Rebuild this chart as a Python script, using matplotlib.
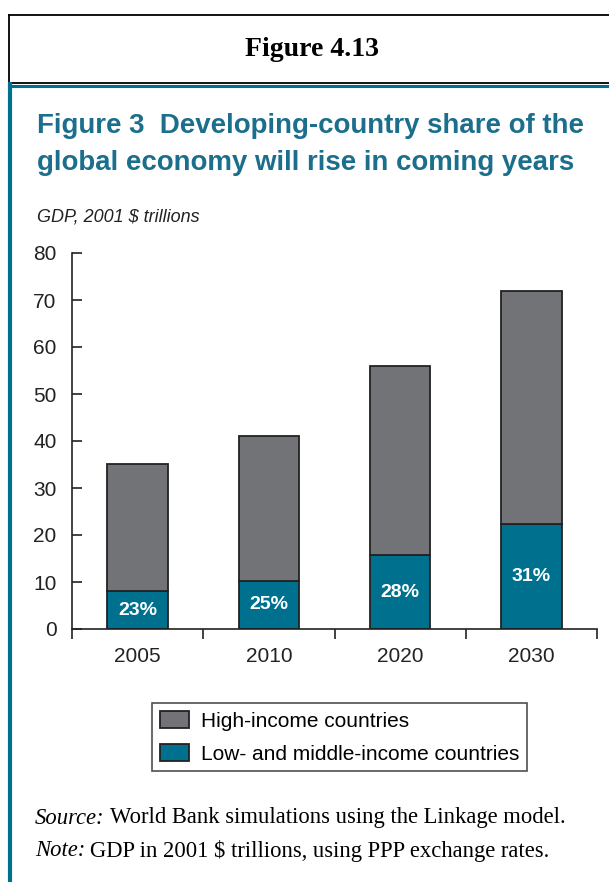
import numpy as np
import matplotlib.pyplot as plt
from matplotlib.lines import Line2D
from matplotlib.patches import Patch

# GDP, 2001 $ trillions
years = ["2005", "2010", "2020", "2030"]
total_gdp = [35, 41, 56, 72]
developing_share = [0.23, 0.25, 0.28, 0.31]
share_labels = ["23%", "25%", "28%", "31%"]

teal = "#00708f"
grey = "#727377"
edge = "#222222"

W, H = 609, 882
fig = plt.figure(figsize=(W / 100, H / 100), dpi=100)


def fx(px):
    return px / W


def fy(py):
    return 1 - py / H


# heading box and teal frame
fig.add_artist(Line2D([fx(9), fx(9), fx(W)], [fy(15), fy(83), fy(83)], color="black", lw=1.3))
fig.add_artist(Line2D([fx(9), fx(W)], [fy(15), fy(15)], color="black", lw=1.3))
fig.add_artist(Line2D([fx(9), fx(W)], [fy(85.5), fy(85.5)], color=teal, lw=2.2))
fig.add_artist(Line2D([fx(9.8), fx(9.8)], [fy(84), fy(H)], color=teal, lw=3))

fig.text(fx(312), fy(49), "Figure 4.13", family="Liberation Serif", weight="bold",
         fontsize=20, ha="center", va="center")

title_color = "#1b6f8d"
fig.text(fx(37), fy(133), "Figure 3  Developing-country share of the", family="Liberation Sans",
         weight="bold", fontsize=19.9, color=title_color, ha="left", va="baseline")
fig.text(fx(37), fy(170), "global economy will rise in coming years", family="Liberation Sans",
         weight="bold", fontsize=19.9, color=title_color, ha="left", va="baseline")
fig.text(fx(37), fy(217), "GDP, 2001 $ trillions", family="Liberation Sans", style="italic",
         fontsize=13, color="#222222", ha="left", va="center")

ax = fig.add_axes([fx(72), fy(629), fx(597) - fx(72), fy(253) - fy(629)])

total = np.array(total_gdp, dtype=float)
low = total * np.array(developing_share)
high = total - low
x = np.arange(len(years))

ax.bar(x, low, width=0.46, color=teal, edgecolor=edge, linewidth=1.3,
       label="Low- and middle-income countries")
ax.bar(x, high, width=0.46, bottom=low, color=grey, edgecolor=edge, linewidth=1.3,
       label="High-income countries")

for xi, lo, lab in zip(x, low, share_labels):
    ax.text(xi, lo / 2, lab, ha="center", va="center", color="white", weight="bold",
            family="Liberation Sans", fontsize=14)

ax.set_xlim(-0.5, 3.5)
ax.set_ylim(0, 80)
ax.set_yticks(np.arange(0, 81, 10))
ax.set_xticks(x)
ax.set_xticklabels(years)
ax.set_xticks(np.arange(-0.5, 3.6, 1), minor=True)

for side in ["top", "right"]:
    ax.spines[side].set_visible(False)
for side in ["left", "bottom"]:
    ax.spines[side].set_linewidth(1.2)
    ax.spines[side].set_color(edge)

ax.tick_params(axis="y", direction="in", length=7.2, width=1.2, color=edge,
               labelsize=15, labelcolor="#222222")
ax.tick_params(axis="x", which="major", length=0, pad=13, labelsize=15, labelcolor="#222222")
ax.tick_params(axis="x", which="minor", direction="out", length=7.2, width=1.2, color=edge)
for lab in ax.get_xticklabels() + ax.get_yticklabels():
    lab.set_family("Liberation Sans")
# y labels sit left of the spine even with inward ticks
ax.yaxis.set_tick_params(pad=11)

handles = [Patch(facecolor=grey, edgecolor=edge, linewidth=1.3),
           Patch(facecolor=teal, edgecolor=edge, linewidth=1.3)]
leg = fig.legend(handles, ["High-income countries", "Low- and middle-income countries"],
                 loc="upper left", bbox_to_anchor=(fx(152), fy(703)),
                 frameon=True, fancybox=False, edgecolor="#222222",
                 prop={"family": "Liberation Sans", "size": 15},
                 handlelength=1.4, handleheight=0.9, handletextpad=0.55,
                 labelspacing=0.62, borderpad=0.38, borderaxespad=0)
leg.get_frame().set_linewidth(1.2)

# source and note lines: italic lead word followed by roman text
renderer = fig.canvas.get_renderer()
for ypx, lead, rest in [(818, "Source:", "World Bank simulations using the Linkage model."),
                        (851, "Note:", "GDP in 2001 $ trillions, using PPP exchange rates.")]:
    t = fig.text(fx(35), fy(ypx), lead, family="Liberation Serif", style="italic",
                 fontsize=16.3, ha="left", va="center")
    bb = t.get_window_extent(renderer)
    fig.text(fx(bb.x1 + 5), fy(ypx), rest, family="Liberation Serif",
             fontsize=16.3, ha="left", va="center")

fig.savefig("out.png", dpi=100)
